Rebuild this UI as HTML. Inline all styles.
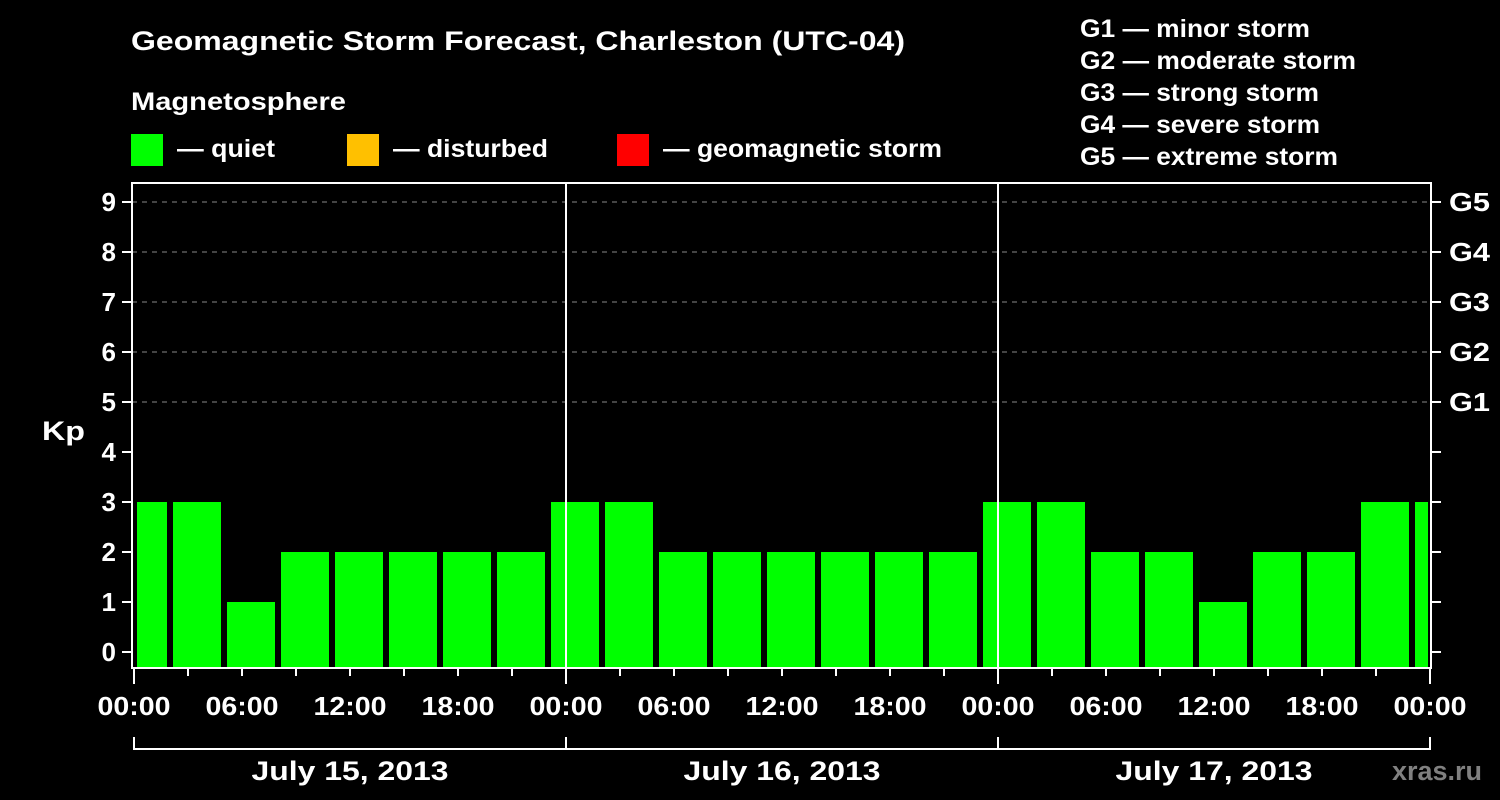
<!DOCTYPE html>
<html><head><meta charset="utf-8">
<style>
html,body{margin:0;padding:0;background:#000;}
svg{display:block;font-family:"Liberation Sans",Arial,sans-serif;font-weight:bold;}
</style></head>
<body>
<svg id="chart" width="1500" height="800" viewBox="0 0 1500 800" xmlns="http://www.w3.org/2000/svg">
<rect width="1500" height="800" fill="#000"/>
<text x="131" y="50" fill="#fff" font-size="27" textLength="774" lengthAdjust="spacingAndGlyphs">Geomagnetic Storm Forecast, Charleston (UTC-04)</text>
<text x="131" y="110" fill="#fff" font-size="25" textLength="215" lengthAdjust="spacingAndGlyphs">Magnetosphere</text>
<g><rect x="131" y="134" width="32" height="32" fill="#00ff00"/><text x="177" y="157" fill="#fff" font-size="25" textLength="98" lengthAdjust="spacingAndGlyphs">— quiet</text></g>
<g><rect x="347" y="134" width="32" height="32" fill="#ffc000"/><text x="393" y="157" fill="#fff" font-size="25" textLength="155" lengthAdjust="spacingAndGlyphs">— disturbed</text></g>
<g><rect x="617" y="134" width="32" height="32" fill="#ff0000"/><text x="663" y="157" fill="#fff" font-size="25" textLength="279" lengthAdjust="spacingAndGlyphs">— geomagnetic storm</text></g>
<g fill="#fff" font-size="25">
<text x="1080" y="37" textLength="230" lengthAdjust="spacingAndGlyphs">G1 — minor storm</text>
<text x="1080" y="69" textLength="276" lengthAdjust="spacingAndGlyphs">G2 — moderate storm</text>
<text x="1080" y="101" textLength="239" lengthAdjust="spacingAndGlyphs">G3 — strong storm</text>
<text x="1080" y="133" textLength="240" lengthAdjust="spacingAndGlyphs">G4 — severe storm</text>
<text x="1080" y="165" textLength="258" lengthAdjust="spacingAndGlyphs">G5 — extreme storm</text>
</g>
<text x="42" y="440" fill="#fff" font-size="27" textLength="43" lengthAdjust="spacingAndGlyphs">Kp</text>
<g id="grid"></g>
<g id="bars"></g>
<g id="axes"></g>
<text x="1392" y="780" fill="#808080" font-size="27" textLength="90" lengthAdjust="spacingAndGlyphs">xras.ru</text>
</svg>
<script>
const kpValues = [3,3,1,2,2,2,2,2,3,3,2,2,2,2,2,2,3,3,2,2,1,2,2,3,3];
const yTicks = [0,1,2,3,4,5,6,7,8,9];
const gLabels = ["G1","G2","G3","G4","G5"];
const xTickLabels = ["00:00","06:00","12:00","18:00","00:00","06:00","12:00","18:00","00:00","06:00","12:00","18:00","00:00"];
const dayLabels = ["July 15, 2013","July 16, 2013","July 17, 2013"];
const firstSlotHour = -1;
const NS="http://www.w3.org/2000/svg";
const X0=134, HPX=18, totalH=72, PL=132, PR=1431, PT=183, PB=668;
const xs=h=>X0+h*HPX;
const ys=v=>652-v*50;
function mk(tag,attrs,parent){const e=document.createElementNS(NS,tag);for(const k in attrs)e.setAttribute(k,attrs[k]);parent.appendChild(e);return e;}
const grid=document.getElementById('grid'),bars=document.getElementById('bars'),axes=document.getElementById('axes');
yTicks.forEach(v=>{if(v>=5){const l=mk('line',{x1:PL,x2:PR,y1:ys(v),y2:ys(v),stroke:'#888','stroke-width':1,'stroke-dasharray':'5,5'},grid);

}});
kpValues.forEach((v,i)=>{let s=xs(firstSlotHour+i*3)+3,e=xs(firstSlotHour+i*3+3)-3;
s=Math.max(s,PL+5);e=Math.min(e,PR-3);if(e<=s)return;
const r=mk('rect',{x:s,y:ys(v),width:e-s,height:PB-ys(v),fill:v>=5?'#ff0000':(v>=4?'#ffc000':'#00ff00')},bars);

});
for(let d=1;d<3;d++){mk('line',{x1:xs(d*24),x2:xs(d*24),y1:PT,y2:PB,stroke:'#fff','stroke-width':2},axes);}
const fr=mk('rect',{x:PL,y:PT,width:PR-PL,height:PB-PT,fill:'none',stroke:'#fff','stroke-width':2},axes);


yTicks.forEach(v=>{mk('line',{x1:PL-10,x2:PL,y1:ys(v),y2:ys(v),stroke:'#fff','stroke-width':2},axes);
mk('line',{x1:PR,x2:PR+10,y1:ys(v),y2:ys(v),stroke:'#fff','stroke-width':2},axes);
const t=mk('text',{x:PL-16,y:ys(v)+9,fill:'#fff','font-size':26,'text-anchor':'end'},axes);t.textContent=v;

});
gLabels.forEach((g,i)=>{const t=mk('text',{x:1449,y:ys(5+i)+9,fill:'#fff','font-size':26,textLength:41,lengthAdjust:'spacingAndGlyphs'},axes);t.textContent=g;

});
for(let h=0;h<=totalH;h+=3){mk('line',{x1:xs(h),x2:xs(h),y1:PB,y2:PB+(h%24===0?16:8),stroke:'#fff','stroke-width':2},axes);}
xTickLabels.forEach((s,i)=>{const t=mk('text',{x:xs(i*6),y:715,fill:'#fff','font-size':26,'text-anchor':'middle',textLength:73,lengthAdjust:'spacingAndGlyphs'},axes);t.textContent=s;

});
dayLabels.forEach((s,d)=>{const a=xs(d*24),b=xs(d*24+24);
mk('path',{d:`M${a},737 V749 H${b} V737`,fill:'none',stroke:'#fff','stroke-width':2},axes);
const t=mk('text',{x:(a+b)/2,y:780,fill:'#fff','font-size':27,'text-anchor':'middle',textLength:197,lengthAdjust:'spacingAndGlyphs'},axes);t.textContent=s;

});
</script>
</body></html>
